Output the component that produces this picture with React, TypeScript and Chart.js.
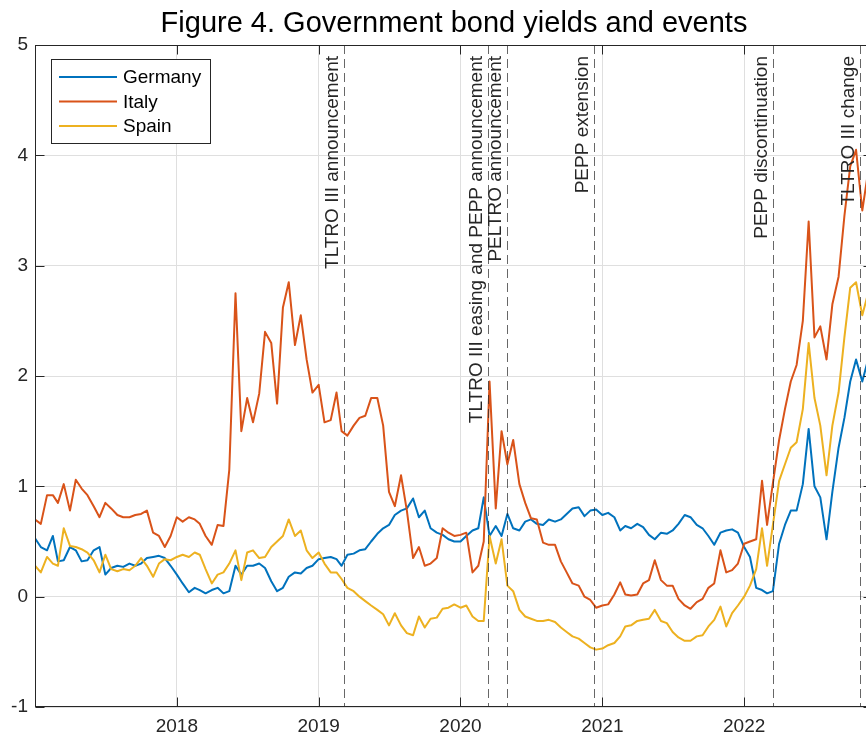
import { useEffect, useRef } from "react";
import { Chart, registerables } from "chart.js";

Chart.register(...registerables);

const FONT = "'Liberation Sans', Arial, Helvetica, sans-serif";
const INK = "#262626";
const GRID = "#dfdfdf";

const TITLE = "Figure 4. Government bond yields and events";

const SERIES_NAMES = ["Germany", "Italy", "Spain"];
const SERIES_COLORS = ["#0072BD", "#D95319", "#EDB120"];

// Yields (%), sampled on the 1st and 16th of each month from January 2017
const germanyYields = [
  0.53, 0.45, 0.42, 0.55, 0.32, 0.33, 0.45, 0.42, 0.32, 0.33,
  0.42, 0.45, 0.20, 0.26, 0.28, 0.27, 0.30, 0.28, 0.30, 0.35,
  0.36, 0.37, 0.35, 0.28, 0.20, 0.12, 0.04, 0.08, 0.06, 0.03,
  0.06, 0.08, 0.03, 0.05, 0.28, 0.20, 0.28, 0.28, 0.30, 0.26,
  0.14, 0.05, 0.08, 0.18, 0.22, 0.21, 0.26, 0.28, 0.34, 0.35,
  0.36, 0.34, 0.28, 0.38, 0.39, 0.42, 0.43, 0.50, 0.57, 0.62,
  0.65, 0.74, 0.78, 0.80, 0.89, 0.72, 0.78, 0.62, 0.58, 0.56,
  0.52, 0.50, 0.50, 0.55, 0.60, 0.62, 0.90, 0.55, 0.64, 0.55,
  0.75, 0.62, 0.60, 0.68, 0.70, 0.66, 0.65, 0.70, 0.68, 0.70,
  0.75, 0.80, 0.81, 0.73, 0.78, 0.79, 0.74, 0.76, 0.72, 0.60,
  0.64, 0.62, 0.66, 0.63, 0.56, 0.52, 0.58, 0.57, 0.60, 0.66,
  0.74, 0.72, 0.65, 0.62, 0.55, 0.47, 0.58, 0.60, 0.61, 0.58,
  0.45, 0.36, 0.08, 0.06, 0.03, 0.05, 0.48, 0.65, 0.78, 0.78,
  1.02, 1.52, 1.00, 0.90, 0.52, 0.95, 1.35, 1.62, 1.95, 2.15,
  1.95, 2.15,
];

const italyYields = [
  0.70, 0.66, 0.92, 0.92, 0.85, 1.02, 0.78, 1.06, 0.98, 0.92,
  0.82, 0.72, 0.85, 0.80, 0.74, 0.72, 0.72, 0.74, 0.75, 0.78,
  0.58, 0.55, 0.45, 0.55, 0.72, 0.68, 0.72, 0.70, 0.66, 0.55,
  0.47, 0.65, 0.64, 1.15, 2.75, 1.50, 1.80, 1.58, 1.84, 2.40,
  2.30, 1.75, 2.62, 2.85, 2.28, 2.55, 2.15, 1.85, 1.92, 1.58,
  1.60, 1.85, 1.50, 1.46, 1.55, 1.62, 1.64, 1.80, 1.80, 1.55,
  0.95, 0.82, 1.10, 0.78, 0.35, 0.45, 0.28, 0.30, 0.35, 0.62,
  0.58, 0.55, 0.56, 0.58, 0.22, 0.28, 0.50, 1.95, 0.80, 1.50,
  1.20, 1.42, 1.02, 0.85, 0.71, 0.70, 0.49, 0.47, 0.47, 0.32,
  0.22, 0.12, 0.10, 0.00, -0.03, -0.10, -0.08, -0.07, 0.02, 0.13,
  0.02, 0.01, 0.02, 0.12, 0.15, 0.33, 0.15, 0.10, 0.10, -0.02,
  -0.08, -0.11, -0.05, -0.02, 0.08, 0.12, 0.42, 0.22, 0.24, 0.30,
  0.48, 0.50, 0.52, 1.05, 0.65, 1.03, 1.42, 1.70, 1.95, 2.10,
  2.50, 3.40, 2.35, 2.45, 2.15, 2.65, 2.90, 3.45, 3.90, 4.05,
  3.50, 3.85,
];

const spainYields = [
  0.28, 0.22, 0.36, 0.30, 0.28, 0.62, 0.46, 0.45, 0.43, 0.40,
  0.33, 0.22, 0.38, 0.25, 0.23, 0.25, 0.24, 0.28, 0.35, 0.28,
  0.18, 0.30, 0.34, 0.33, 0.36, 0.38, 0.36, 0.40, 0.38, 0.25,
  0.12, 0.20, 0.22, 0.30, 0.42, 0.15, 0.40, 0.42, 0.35, 0.36,
  0.45, 0.50, 0.55, 0.70, 0.55, 0.60, 0.42, 0.35, 0.40, 0.30,
  0.22, 0.22, 0.16, 0.08, 0.05, 0.00, -0.04, -0.08, -0.12, -0.16,
  -0.26, -0.15, -0.26, -0.33, -0.35, -0.18, -0.28, -0.20, -0.19, -0.11,
  -0.10, -0.07, -0.10, -0.08, -0.18, -0.22, -0.22, 0.55, 0.30, 0.52,
  0.10, 0.05, -0.12, -0.18, -0.20, -0.22, -0.22, -0.21, -0.23, -0.28,
  -0.32, -0.36, -0.38, -0.42, -0.46, -0.48, -0.47, -0.44, -0.42, -0.36,
  -0.27, -0.26, -0.22, -0.21, -0.20, -0.12, -0.22, -0.24, -0.32, -0.37,
  -0.40, -0.40, -0.36, -0.35, -0.27, -0.21, -0.09, -0.27, -0.15, -0.08,
  0.00, 0.10, 0.25, 0.62, 0.28, 0.65, 1.05, 1.20, 1.35, 1.40,
  1.70, 2.30, 1.80, 1.55, 1.10, 1.55, 1.85, 2.35, 2.80, 2.85,
  2.55, 2.75,
];

const seriesYields = [germanyYields, italyYields, spainYields];

const START_YEAR = 2017;
const observationDates = germanyYields.map((_, k) => {
  const month = Math.floor(k / 2);
  const y = START_YEAR + Math.floor(month / 12);
  const m = (month % 12) + 1;
  const d = k % 2 === 0 ? 1 : 16;
  return `${y}-${String(m).padStart(2, "0")}-${String(d).padStart(2, "0")}`;
});

const yearTicks = [2018, 2019, 2020, 2021, 2022];
const yieldTicks = [-1, 0, 1, 2, 3, 4, 5];

const eventDates = ["2019-03-07", "2020-03-12", "2020-04-30", "2020-12-10", "2022-03-17", "2022-10-27"];
const eventLabels = [
  "TLTRO III announcement",
  "TLTRO III easing and PEPP announcement",
  "PELTRO announcement",
  "PEPP extension",
  "PEPP discontinuation",
  "TLTRO III change",
];

const X_MIN = 2017;
const X_MAX = 2022.9085;

function decimalYear(iso: string): number {
  const [y, m, d] = iso.split("-").map(Number);
  const start = Date.UTC(y, 0, 1);
  const end = Date.UTC(y + 1, 0, 1);
  return y + (Date.UTC(y, m - 1, d) - start) / (end - start);
}

const TICK_LEN = 9;

const decorations = {
  id: "decorations",
  afterDatasetsDraw(chart: any) {
    const { ctx, chartArea: a, scales } = chart;
    const x = scales.x;
    ctx.save();
    ctx.beginPath();
    ctx.rect(a.left, a.top, a.right - a.left, a.bottom - a.top);
    ctx.clip();
    eventDates.forEach((d, i) => {
      const px = Math.round(x.getPixelForValue(decimalYear(d))) + 0.5;
      ctx.setLineDash([9, 5]);
      ctx.strokeStyle = "rgba(38,38,38,0.7)";
      ctx.lineWidth = 1;
      ctx.beginPath();
      ctx.moveTo(px, a.top);
      ctx.lineTo(px, a.bottom);
      ctx.stroke();
      ctx.setLineDash([]);
      ctx.save();
      ctx.translate(px - 6.5, a.top + 11);
      ctx.rotate(-Math.PI / 2);
      ctx.textAlign = "right";
      ctx.textBaseline = "alphabetic";
      ctx.font = `19px ${FONT}`;
      ctx.fillStyle = INK;
      ctx.fillText(eventLabels[i], 0, 0);
      ctx.restore();
    });
    ctx.restore();
  },
  afterDraw(chart: any) {
    const { ctx, chartArea: a, scales } = chart;
    const x = scales.x;
    const y = scales.y;
    ctx.save();
    // axes box
    ctx.strokeStyle = INK;
    ctx.lineWidth = 1;
    const L = Math.round(a.left) + 0.5;
    const R = Math.round(a.right) - 0.5;
    const T = Math.round(a.top) + 0.5;
    const B = Math.round(a.bottom) - 0.5;
    ctx.strokeRect(L, T, R - L, B - T);
    ctx.beginPath();
    yearTicks.forEach((v) => {
      const px = Math.round(x.getPixelForValue(v)) + 0.5;
      ctx.moveTo(px, B);
      ctx.lineTo(px, B - TICK_LEN);
      ctx.moveTo(px, T);
      ctx.lineTo(px, T + TICK_LEN);
    });
    yieldTicks.forEach((v) => {
      const py = Math.round(y.getPixelForValue(v)) + 0.5;
      ctx.moveTo(L, py);
      ctx.lineTo(L + TICK_LEN, py);
      ctx.moveTo(R, py);
      ctx.lineTo(R - TICK_LEN, py);
    });
    ctx.stroke();

    // legend
    const lx = 51.5, ly = 59.5, lw = 159, lh = 84;
    ctx.fillStyle = "#ffffff";
    ctx.fillRect(lx, ly, lw, lh);
    ctx.strokeStyle = INK;
    ctx.strokeRect(lx, ly, lw, lh);
    ctx.font = `19px ${FONT}`;
    ctx.textAlign = "left";
    ctx.textBaseline = "middle";
    chart.data.datasets.forEach((ds: any, i: number) => {
      const rowY = 77 + i * 24.5;
      ctx.strokeStyle = ds.borderColor;
      ctx.lineWidth = 2;
      ctx.beginPath();
      ctx.moveTo(59, rowY);
      ctx.lineTo(117, rowY);
      ctx.stroke();
      ctx.fillStyle = "#000000";
      ctx.fillText(ds.label, 123, rowY + 1);
    });

    // title
    ctx.font = `29px ${FONT}`;
    ctx.fillStyle = "#000000";
    ctx.textAlign = "center";
    ctx.textBaseline = "alphabetic";
    ctx.fillText(TITLE, (a.left + a.right) / 2, 32);
    ctx.restore();
  },
};

export default function App() {
  const canvasRef = useRef<HTMLCanvasElement | null>(null);

  useEffect(() => {
    const canvas = canvasRef.current;
    if (!canvas) return;
    const chart = new Chart(canvas, {
      type: "line",
      data: {
        datasets: SERIES_NAMES.map((name, i) => ({
          label: name,
          data: seriesYields[i].map((v, k) => ({ x: decimalYear(observationDates[k]), y: v })),
          borderColor: SERIES_COLORS[i],
          backgroundColor: SERIES_COLORS[i],
          borderWidth: 2,
          pointRadius: 0,
          tension: 0,
          borderJoinStyle: "round" as const,
          order: 2 - i,
        })),
      },
      options: {
        animation: false,
        responsive: false,
        devicePixelRatio: 1,
        events: [],
        layout: { padding: { top: 45, right: 7, bottom: 0, left: 0 } },
        plugins: {
          legend: { display: false },
          tooltip: { enabled: false },
          title: { display: false },
        },
        scales: {
          x: {
            type: "linear",
            min: X_MIN,
            max: X_MAX,
            afterBuildTicks: (scale: any) => {
              scale.ticks = yearTicks.map((v) => ({ value: v }));
            },
            afterFit: (scale: any) => {
              scale.height = 28;
            },
            ticks: {
              autoSkip: false,
              maxRotation: 0,
              padding: 8,
              color: INK,
              font: { family: FONT, size: 19 },
              callback: (v: any) => String(v),
            },
            grid: { color: GRID, drawTicks: false, lineWidth: 1 },
            border: { display: false },
          },
          y: {
            type: "linear",
            min: -1,
            max: 5,
            afterBuildTicks: (scale: any) => {
              scale.ticks = yieldTicks.map((v) => ({ value: v }));
            },
            afterFit: (scale: any) => {
              scale.width = 35;
            },
            ticks: {
              padding: 7,
              color: INK,
              font: { family: FONT, size: 19 },
              callback: (v: any) => String(v),
            },
            grid: { color: GRID, drawTicks: false, lineWidth: 1 },
            border: { display: false },
          },
        },
      },
      plugins: [decorations],
    });
    return () => chart.destroy();
  }, []);

  return (
    <div
      style={{
        position: "fixed",
        left: 0,
        top: 0,
        width: 866,
        height: 735,
        overflow: "hidden",
        background: "#ffffff",
      }}
    >
      <canvas ref={canvasRef} width={880} height={735} style={{ display: "block" }} />
    </div>
  );
}
